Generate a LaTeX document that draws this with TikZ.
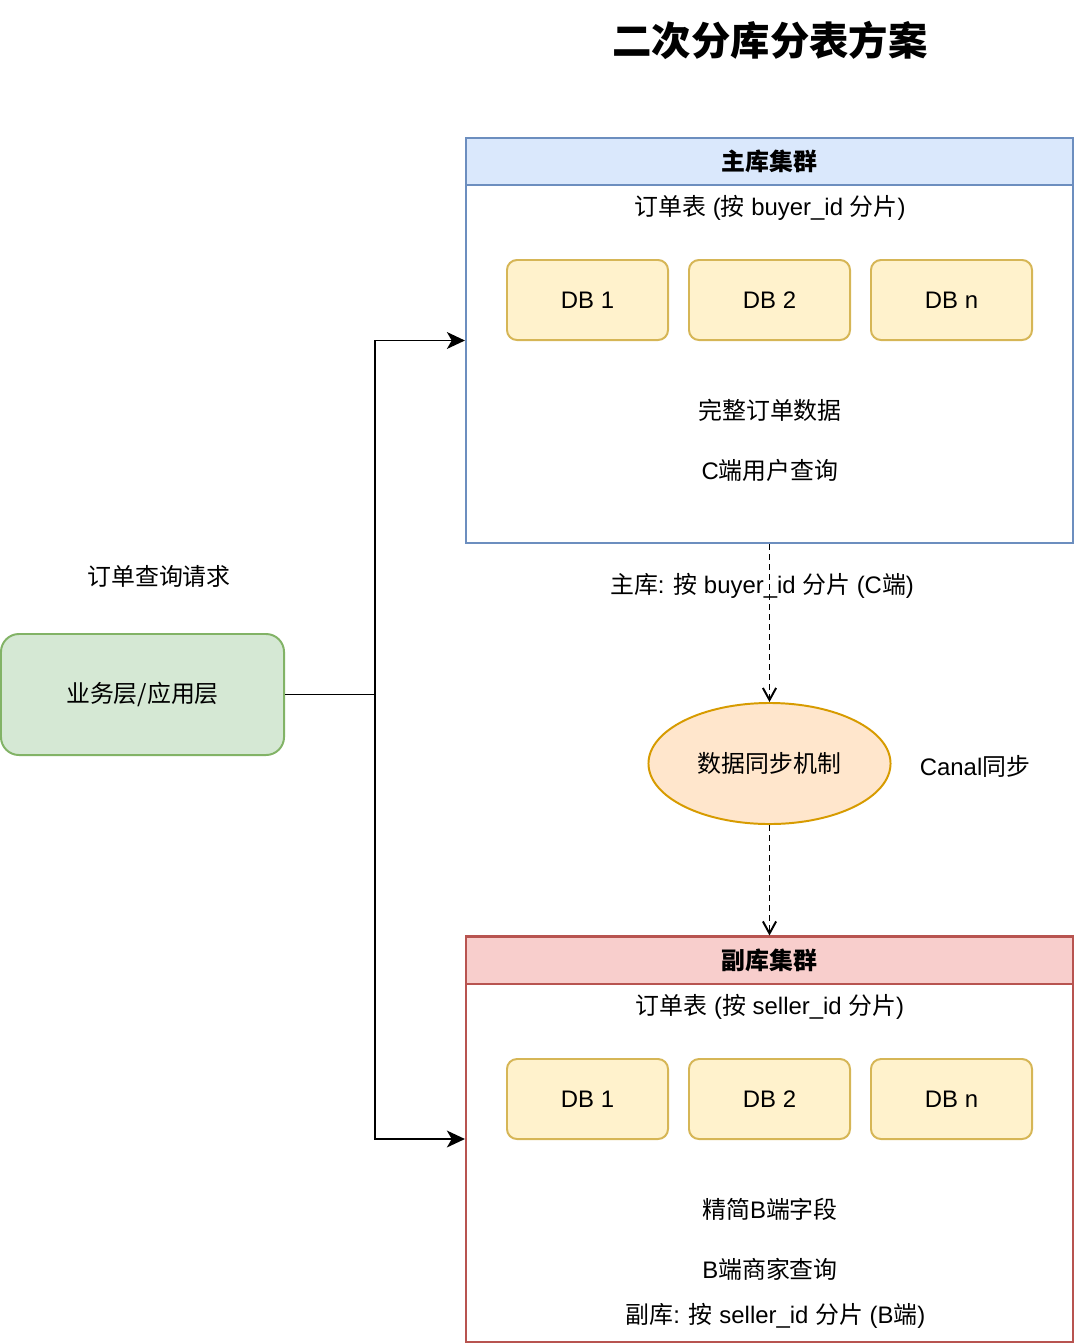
\documentclass[tikz,border=0pt]{standalone}
\usepackage{fontspec}
\setmainfont{Liberation Sans}
\newfontfamily\cjk{Noto Sans CJK SC}
\newcommand\zh[1]{{\cjk #1}}
\usetikzlibrary{arrows.meta,shapes.geometric}
\definecolor{mainfill}{HTML}{DAE8FC}
\definecolor{mainline}{HTML}{6C8EBF}
\definecolor{subfill}{HTML}{F8CECC}
\definecolor{subline}{HTML}{B85450}
\definecolor{dbfill}{HTML}{FFF2CC}
\definecolor{dbline}{HTML}{D6B656}
\definecolor{syncfill}{HTML}{FFE6CC}
\definecolor{syncline}{HTML}{D79B00}
\definecolor{appfill}{HTML}{D5E8D4}
\definecolor{appline}{HTML}{82B366}

\begin{document}
\begin{tikzpicture}[x=0.025cm,y=-0.025cm]
\tikzstyle{every node}=[font=\fontsize{17}{20}\selectfont]
\tikzstyle{cluster}=[draw, line width=1.4pt, minimum width=15.175cm, minimum height=10.125cm, inner sep=0pt]
\tikzstyle{header}=[draw, line width=1.4pt, minimum width=15.175cm, minimum height=1.175cm, inner sep=0pt, font=\fontsize{17}{20}\selectfont\bfseries]
\tikzstyle{db}=[draw=dbline, fill=dbfill, rounded corners=0.25cm, line width=1.4pt, minimum width=4.025cm, minimum height=2cm]
\tikzstyle{conn}=[line width=1.4pt, -{Stealth[length=0.45cm,width=0.42cm,inset=0.12cm]}]
\tikzstyle{sync}=[line width=1.4pt, dash pattern=on 0.15cm off 0.1cm, -{Straight Barb[length=0.3cm,width=0.33cm]}]

\useasboundingbox (0,0) rectangle (1080,1343);

\node[font=\fontsize{28}{32}\selectfont\bfseries] (title) at (770,40) {\zh{二次分库分表方案}};

% main cluster
\node[cluster, draw=mainline] (main) at (769.5,340.5) {};
\node[header, draw=mainline, fill=mainfill] (mainhead) at (769.5,161.5) {\zh{主库集群}};
\node (maintable) at (770,208) {\zh{订单表} (\zh{按} buyer\_id \zh{分片})};
\foreach \x/\t/\i in {587.5/1/1, 769.5/2/2, 951.5/n/3}
  \node[db] (mdb\i) at (\x,300) {DB \t};
\node (mfull) at (770,410) {\zh{完整订单数据}};
\node (muser) at (770,470) {C\zh{端用户查询}};

% sync
\node[ellipse, draw=syncline, fill=syncfill, line width=1.4pt, minimum width=6.05cm, minimum height=3.025cm] (sync) at (769.5,763.5) {\zh{数据同步机制}};
\node (canal) at (975,766) {Canal\zh{同步}};
\node (mainrule) at (762,586) {\zh{主库}: \zh{按} buyer\_id \zh{分片} (C\zh{端})};

% sub cluster
\node[cluster, draw=subline] (sub) at (769.5,1139) {};
\node[header, draw=subline, fill=subfill] (subhead) at (769.5,960.5) {\zh{副库集群}};
\node (subtable) at (770,1007) {\zh{订单表} (\zh{按} seller\_id \zh{分片})};
\foreach \x/\t/\i in {587.5/1/1, 769.5/2/2, 951.5/n/3}
  \node[db] (sdb\i) at (\x,1099) {DB \t};
\node (slim) at (770,1209) {\zh{精简}B\zh{端字段}};
\node (sseller) at (770,1269) {B\zh{端商家查询}};
\node (subrule) at (775.5,1316) {\zh{副库}: \zh{按} seller\_id \zh{分片} (B\zh{端})};

% app layer
\node[draw=appline, fill=appfill, rounded corners=0.45cm, line width=1.4pt, minimum width=7.075cm, minimum height=3.025cm] (app) at (142.5,694.5) {\zh{业务层/应用层}};
\node (request) at (159,576) {\zh{订单查询请求}};

\coordinate (split) at (375,694.5);
\draw[line width=1.4pt] (app.east) -- (split);
\draw[conn] (split) |- (main.west);
\draw[conn] (split) |- (sub.west);

\draw[sync] (main.south) -- (sync.north);
\draw[sync] (sync.south) -- (sub.north);

\end{tikzpicture}
\end{document}
